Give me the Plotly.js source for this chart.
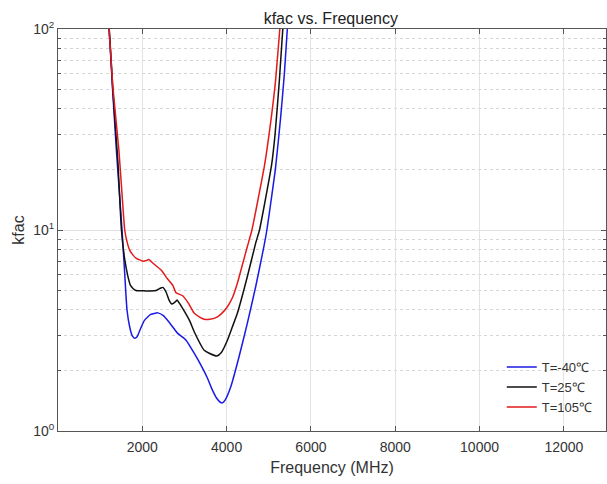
<!DOCTYPE html>
<html>
<head>
<meta charset="utf-8">
<script src="https://cdn.plot.ly/plotly-3.0.1.min.js"></script>
<style>html,body{margin:0;padding:0;background:#fff;}#chart{width:607px;height:484px;}</style>
</head>
<body>
<div id="chart"></div>
<script>
// Series: T=-40℃
const freqBlue = [1150, 1210, 1300, 1385, 1450, 1519, 1580, 1637, 1700, 1760, 1818, 1880, 1950, 2050, 2200, 2368, 2500, 2650, 2840, 3038, 3234, 3431, 3547, 3650, 3760, 3850, 3900, 3960, 4099, 4295, 4491, 4689, 4884, 4955, 5057, 5160, 5280, 5370, 5440, 5480];
const valBlue  = [130, 100, 48, 25, 16, 10, 6.2, 4.0, 3.3, 2.98, 2.89, 2.95, 3.2, 3.55, 3.8, 3.87, 3.75, 3.45, 3.06, 2.83, 2.43, 2.05, 1.83, 1.62, 1.46, 1.39, 1.38, 1.42, 1.66, 2.34, 3.43, 5.22, 8.26, 10, 14.1, 20.3, 36, 60, 100, 125];
// Series: T=25℃
const freqBlack = [1150, 1215, 1300, 1420, 1505, 1580, 1661, 1720, 1779, 1850, 2054, 2200, 2330, 2440, 2487, 2566, 2640, 2699, 2760, 2826, 2870, 2935, 3116, 3234, 3469, 3600, 3769, 3870, 4019, 4137, 4255, 4491, 4689, 4780, 4901, 5066, 5150, 5250, 5333, 5380];
const valBlack  = [130, 100, 50, 22, 10, 7.2, 5.85, 5.3, 5.12, 5.0, 4.98, 4.97, 5.0, 5.15, 5.18, 4.9, 4.45, 4.28, 4.35, 4.48, 4.35, 4.15, 3.56, 3.11, 2.52, 2.43, 2.36, 2.45, 2.83, 3.3, 3.85, 5.85, 8.6, 10, 13.5, 21, 30, 55, 100, 125];
// Series: T=105℃
const freqRed = [1150, 1210, 1300, 1444, 1520, 1583, 1640, 1700, 1780, 1858, 2015, 2100, 2157, 2250, 2448, 2600, 2723, 2802, 2959, 3100, 3234, 3350, 3469, 3600, 3784, 3903, 4019, 4137, 4255, 4373, 4491, 4600, 4743, 4900, 5050, 5160, 5262, 5310];
const valRed  = [130, 100, 52, 25, 15, 10, 8.7, 7.94, 7.5, 7.23, 7.0, 7.05, 7.14, 6.85, 6.32, 5.7, 5.3, 4.87, 4.71, 4.3, 3.85, 3.7, 3.6, 3.6, 3.7, 3.88, 4.15, 4.6, 5.43, 6.7, 8.26, 10, 14.1, 21, 35, 55, 100, 125];

const seriesNames = ['T=-40℃', 'T=25℃', 'T=105℃'];
const seriesColors = ['#1a1ae6', '#111111', '#e31a1a'];

const xTickVals = [2000, 4000, 6000, 8000, 10000, 12000];
const xTickText = ['2000', '4000', '6000', '8000', '10000', '12000'];
const yTickVals = [1, 10, 100];
const yTickText = ['10<sup>0</sup>', '10<sup>1</sup>', '10<sup>2</sup>'];
const yMinorVals = [2, 3, 4, 5, 6, 7, 8, 9, 20, 30, 40, 50, 60, 70, 80, 90];

const xs = [freqBlue, freqBlack, freqRed];
const ys = [valBlue, valBlack, valRed];

const traces = xs.map((x, i) => ({
  x: x, y: ys[i], type: 'scatter', mode: 'lines', name: seriesNames[i],
  line: {color: seriesColors[i], width: 1.5, shape: 'spline', smoothing: 0.5}
}));

const FONT = 'Liberation Sans, Arial, sans-serif';

const axisCommon = {
  showline: true, linecolor: '#555', linewidth: 1, mirror: 'ticks',
  ticks: 'inside', ticklen: 5, tickcolor: '#555',
  gridcolor: '#e3e3e3', gridwidth: 1, zeroline: false,
  tickfont: {family: FONT, size: 14, color: '#333'}
};

const layout = {
  width: 607, height: 484,
  margin: {l: 58, r: 1, t: 29, b: 53},
  paper_bgcolor: '#fff', plot_bgcolor: '#fff',
  font: {family: FONT, color: '#222'},
  title: {text: 'kfac vs. Frequency', font: {size: 16, color: '#222'}, x: 0.545, xanchor: 'center', y: 0.963, yanchor: 'middle'},
  xaxis: Object.assign({}, axisCommon, {
    range: [0, 13000], tickmode: 'array', tickvals: xTickVals, ticktext: xTickText,
    showgrid: true, ticklabelstandoff: 3,
    title: {text: 'Frequency (MHz)', font: {size: 16, color: '#333'}, standoff: 8}
  }),
  yaxis: Object.assign({}, axisCommon, {
    type: 'log', range: [0, 2], tickmode: 'array', tickvals: yTickVals, ticktext: yTickText,
    showgrid: true,
    minor: {tickmode: 'array', tickvals: yMinorVals, ticks: 'inside', ticklen: 3, tickcolor: '#555',
            showgrid: true, gridcolor: '#d6d6d6', griddash: 'dot', gridwidth: 1},
    title: {text: 'kfac', font: {size: 16, color: '#333'}, standoff: 4}
  }),
  showlegend: true,
  legend: {x: 0.985, xanchor: 'right', y: 0.022, yanchor: 'bottom', bgcolor: 'rgba(255,255,255,0)',
           borderwidth: 0, font: {size: 13, color: '#333'}, tracegroupgap: 0}
};

Plotly.newPlot('chart', traces, layout, {displayModeBar: false, staticPlot: true});
</script>
</body>
</html>
